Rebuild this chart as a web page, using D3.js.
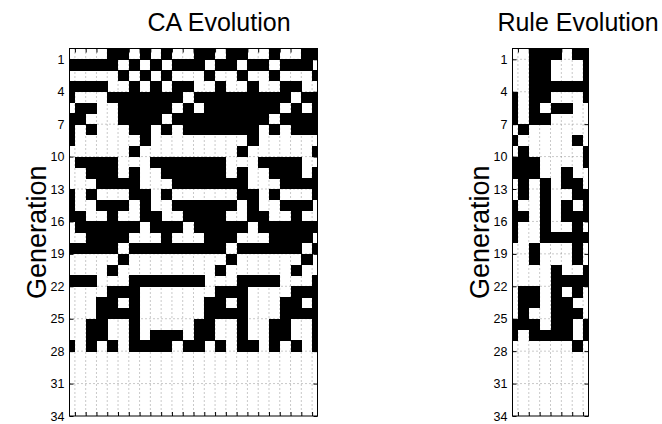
<!DOCTYPE html>
<html lang="en">
<head>
<meta charset="UTF-8">
<title>CA Evolution / Rule Evolution</title>
<script src="https://d3js.org/d3.v7.min.js"></script>
<style>
  body { margin: 0; background: #fff; }
  svg { display: block; background: #fff; }
  text { font-family: "Liberation Sans", Arial, Helvetica, sans-serif; fill: #000; }
  .tick text { font-size: 12.5px; }
  .title { font-size: 25px; }
  .ylabel { font-size: 27px; }
</style>
</head>
<body>
<svg width="662" height="424"></svg>
<script>
// CA state for each generation, 24 cells per row, 1 = black
const caRows = [
  "000011010100110110010011",
  "111110101011101101101110",
  "000001010100010010010001",
  "111100101011001001001100",
  "100011111110111111111011",
  "011001111101011111110101",
  "110001111011111111101111",
  "101000110101111111010111",
  "100000010000000001000000",
  "000000100000000010000001",
  "011110001111111000111100",
  "001110100111111010011101",
  "000111100011111110001111",
  "101000110100000011010001",
  "100111010011111101001110",
  "110010011001111001100100",
  "011111101110111110111111",
  "001111000100011100011110",
  "111110111111111011111101",
  "000001000000000100000010",
  "000010000000001000000100",
  "111000111111100011110001",
  "000011100000001110000111",
  "000110100000011010001101",
  "000111100000011110001111",
  "001100100000110010011001",
  "001100101110110010011001",
  "101010111101101011010101"
];

// rule table used at each generation (neighbourhoods 111 ... 000)
const ruleRows = [
  "00111011", "00110001", "00110001", "00111111",
  "10110001", "10101100", "10110000", "01000000",
  "10000010", "01000001", "11100001", "11100100",
  "01010110", "01010011", "10010101", "11010111",
  "10010010", "10011111", "00100010", "00100010",
  "00001001", "00001111", "01101010", "01101100",
  "01001110", "11101101", "10111101", "00000010"
];

const genTicks = [1, 4, 7, 10, 13, 16, 19, 22, 25, 28, 31, 34];
const genMax = 34;
const panelTitles = ["CA Evolution", "Rule Evolution"];
const yLabel = "Generation";

const svg = d3.select("svg");

function drawPanel(rows, box, title, id) {
  const nCols = rows[0].length;
  const x = d3.scaleLinear().domain([0, nCols - 1]).range([box.left, box.right]);
  const y = d3.scaleLinear().domain([0, genMax]).range([box.top, box.bottom]);
  const bounds = d3.range(nCols - 1).map(k => k + 0.5);

  const g = svg.append("g");

  svg.append("clipPath").attr("id", id)
    .append("rect")
      .attr("x", box.left).attr("y", box.top)
      .attr("width", box.right - box.left).attr("height", box.bottom - box.top);

  // dotted grid
  g.append("g").selectAll("line").data(bounds).join("line")
      .attr("x1", d => x(d)).attr("x2", d => x(d))
      .attr("y1", box.top).attr("y2", box.bottom)
      .attr("stroke", "#777").attr("stroke-width", 0.8)
      .attr("stroke-dasharray", "1,3");
  g.append("g").selectAll("line").data(genTicks.filter(t => t < genMax)).join("line")
      .attr("x1", box.left).attr("x2", box.right)
      .attr("y1", d => y(d)).attr("y2", d => y(d))
      .attr("stroke", "#777").attr("stroke-width", 0.8)
      .attr("stroke-dasharray", "1,3");

  // black cells
  const cells = [];
  rows.forEach((row, r) => {
    row.split("").forEach((v, c) => { if (v === "1") cells.push({ r, c }); });
  });
  g.append("g").attr("clip-path", `url(#${id})`)
    .selectAll("rect").data(cells).join("rect")
      .attr("x", d => x(d.c - 0.5))
      .attr("y", d => y(d.r))
      .attr("width", x(1) - x(0) + 0.4)
      .attr("height", y(1) - y(0) + 0.4)
      .attr("fill", "#000")
      .attr("shape-rendering", "crispEdges");

  // axes: inward ticks all round
  g.append("g").attr("transform", `translate(${box.left},0)`)
    .call(d3.axisLeft(y).tickValues(genTicks).tickSize(-4).tickPadding(5))
    .call(a => a.select(".domain").remove());
  g.append("g").attr("transform", `translate(${box.right},0)`)
    .call(d3.axisRight(y).tickValues(genTicks).tickSize(-4).tickFormat(""))
    .call(a => a.select(".domain").remove());
  g.append("g").attr("transform", `translate(0,${box.bottom})`)
    .call(d3.axisBottom(x).tickValues(bounds).tickSize(-4).tickFormat(""))
    .call(a => a.select(".domain").remove());
  g.append("g").attr("transform", `translate(0,${box.top})`)
    .call(d3.axisTop(x).tickValues(bounds).tickSize(-4).tickFormat(""))
    .call(a => a.select(".domain").remove());
  g.selectAll(".tick line").attr("stroke", "#000");

  g.append("rect")
    .attr("x", box.left).attr("y", box.top)
    .attr("width", box.right - box.left).attr("height", box.bottom - box.top)
    .attr("fill", "none").attr("stroke", "#000").attr("stroke-width", 1);

  svg.append("text").attr("class", "title")
    .attr("x", box.titleX).attr("y", 31)
    .attr("text-anchor", "middle")
    .text(title);

  svg.append("text").attr("class", "ylabel")
    .attr("transform", `translate(${box.labelX},${(box.top + box.bottom) / 2}) rotate(-90)`)
    .attr("text-anchor", "middle")
    .text(yLabel);
}

drawPanel(caRows, { left: 69.5, right: 317.5, top: 48.5, bottom: 416, titleX: 219, labelX: 46 }, panelTitles[0], "clipCA");
drawPanel(ruleRows, { left: 512.5, right: 588.5, top: 48.5, bottom: 416, titleX: 578, labelX: 489 }, panelTitles[1], "clipRule");
</script>
</body>
</html>
